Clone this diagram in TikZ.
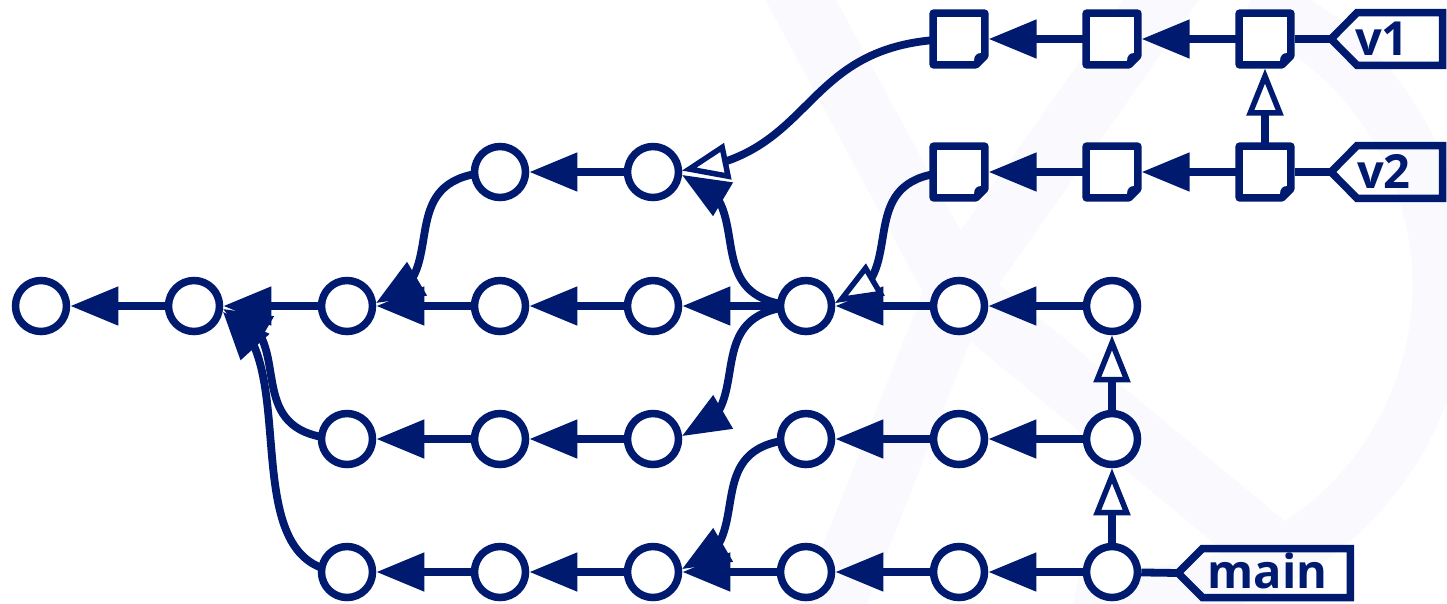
\documentclass[tikz,border=0pt]{standalone}
\usepackage{fontspec}
\newfontfamily\tagfont{Open Sans}
\usetikzlibrary{arrows.meta,bending,calc}
\definecolor{navy}{RGB}{0,26,112}
\definecolor{wmark}{RGB}{249,249,254}
\pgfdeclarelayer{wmlayer}
\pgfdeclarelayer{edgelayer}
\pgfsetlayers{wmlayer,edgelayer,main}
\newcommand\gitcurve[5]{%
  \path (#2.center) ++(-#4,0) coordinate (gcP1);
  \path (#3.center) ++(#4,0) coordinate (gcP2);
  \coordinate (gcA) at ($(#2.center)!#5!(gcP1)$);
  \coordinate (gcB) at ($(gcP1)!#5!(gcP2)$);
  \coordinate (gcC) at ($(gcP2)!#5!(#3.center)$);
  \coordinate (gcD) at ($(gcA)!#5!(gcB)$);
  \coordinate (gcE) at ($(gcB)!#5!(gcC)$);
  \coordinate (gcF) at ($(gcD)!#5!(gcE)$);
  \draw[edge,#1] (#2.center) .. controls (gcA) and (gcD) .. (gcF);
}
\begin{document}
\begin{tikzpicture}[x=1pt,y=-1pt,
  commit/.style={circle,draw=navy,fill=white,line width=7.5pt,minimum size=51pt,inner sep=0pt},
  doc/.style={rectangle,fill=white,minimum size=51.6pt,inner sep=0pt,outer sep=3.7pt},
  docline/.style={draw=navy,line width=7.5pt,line join=round},
  tagline/.style={draw=navy,line width=7.5pt,line join=miter},
  edge/.style={draw=navy,line width=7.8pt},
  fa/.style={-{Triangle[length=48pt,width=37pt,flex]}},
  oa/.style={-{Triangle[open,length=47pt,width=36pt,fill=white,line width=5.5pt,flex]}},
  tagtxt/.style={text=navy,font=\tagfont\bfseries\fontsize{47}{47}\selectfont,inner sep=0pt,anchor=base},
]
\useasboundingbox (0,0) rectangle (1447,603);
\begin{pgfonlayer}{wmlayer}
  \fill[white] (0,0) rectangle (1447,603);
  \begin{scope}[wmark,line width=62pt]
    \draw (957,290) -- (790,-20);
    \draw (957,290) -- (1175,-20);
    \draw (957,290) -- (825,625);
    \draw (957,290) -- (1265,545);
    \draw[line width=55pt] (1130,285) ++(-67:310) arc[start angle=-67,end angle=100,radius=310];
  \end{scope}
\end{pgfonlayer}

\foreach \n/\x/\y in {B1/41/306,B2/194/306,B3/347/306,B4/500/306,B5/653/306,B6/806/306,B7/959/306,B8/1112/306,
  A4/500/172,A5/653/172,
  C3/347/439,C4/500/439,C5/653/439,C6/806/439,C7/959/439,C8/1112/439,
  D3/347/572,D4/500/572,D5/653/572,D6/806/572,D7/959/572,D8/1112/572}
  \node[commit] (\n) at (\x,\y) {};
\foreach \n/\x/\y in {S7/959/39,S8/1112/39,S9/1265/39,T7/959/172,T8/1112/172,T9/1265/172}
  \node[doc] (\n) at (\x,\y) {};
\foreach \n in {S7,S8,S9,T7,T8,T9}{
  \draw[docline] ($(\n.center)+(-25.8,-25.8)$) -- ($(\n.center)+(25.8,-25.8)$) -- ($(\n.center)+(25.8,17)$) -- ($(\n.center)+(17,25.8)$) -- ($(\n.center)+(-25.8,25.8)$) -- cycle;
  \fill[navy] ($(\n.center)+(22.6,14)$) .. controls ($(\n.center)+(17.5,14)$) and ($(\n.center)+(15,16.5)$) .. ($(\n.center)+(15,22.6)$) -- ($(\n.center)+(22.6,22.6)$) -- cycle;
}

\coordinate (v1tip) at (1331,39);
\coordinate (v2tip) at (1331,172);
\coordinate (maintip) at (1178,573);
\draw[tagline] (v1tip) -- (1357,12.7) -- (1442.5,12.7) -- (1442.5,65.3) -- (1357,65.3) -- cycle;
\draw[tagline] (v2tip) -- (1357,145.7) -- (1442.5,145.7) -- (1442.5,198.3) -- (1357,198.3) -- cycle;
\draw[tagline] (maintip) -- (1202.5,548.5) -- (1350.3,548.5) -- (1350.3,597.5) -- (1202.5,597.5) -- cycle;
\node[tagtxt] (v1) at (1382,55) {v1};
\node[tagtxt] (v2) at (1384,188.5) {v2};
\node[tagtxt] (mainlabel) at (1267.5,588.3) {main};

\begin{pgfonlayer}{edgelayer}
  \foreach \a/\b in {B2/B1,B3/B2,B4/B3,B5/B4,B6/B5,B7/B6,B8/B7,A5/A4,C4/C3,C5/C4,C7/C6,C8/C7,D4/D3,D5/D4,D6/D5,D7/D6,D8/D7,S8/S7,S9/S8,T8/T7,T9/T8}
    \draw[edge,fa] (\a) -- (\b);
  \foreach \a/\b in {D8/C8,C8/B8,T9/S9}
    \draw[edge,oa] (\a) -- (\b);
  \gitcurve{fa}{A4}{B3}{131}{0.914}
  \gitcurve{fa}{B6}{A5}{131}{0.914}
  \gitcurve{fa}{B6}{C5}{131}{0.914}
  \gitcurve{fa}{C3}{B2}{131}{0.914}
  \gitcurve{fa}{D3}{B2}{131}{0.914}
  \gitcurve{fa}{C6}{D5}{131}{0.914}
  \gitcurve{oa}{S7}{A5}{172}{0.94}
  \gitcurve{oa}{T7}{B6}{131}{0.914}
  \draw[edge] (S9) -- (v1tip);
  \draw[edge] (T9) -- (v2tip);
  \draw[edge] (D8) -- (maintip);
\end{pgfonlayer}
\end{tikzpicture}
\end{document}
